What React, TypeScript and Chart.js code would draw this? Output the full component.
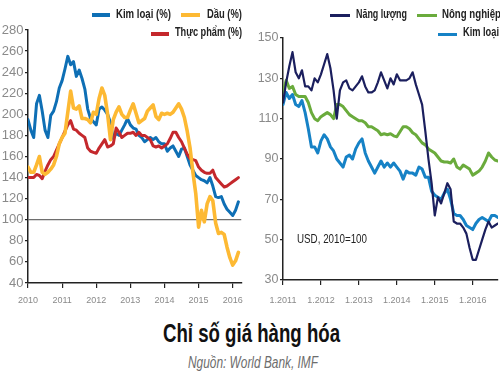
import React, { useEffect, useLayoutEffect, useRef } from "react";
import { Chart, registerables } from "chart.js";

Chart.register(...registerables);

// ---------- Left chart data (monthly, Jan 2010 .. Mar 2016) ----------
const leftYearTicks = [0, 12, 24, 36, 48, 60, 72];
const leftYearLabels = ["2010", "2011", "2012", "2013", "2014", "2015", "2016"];
const leftYTicks = [40, 60, 80, 100, 120, 140, 160, 180, 200, 220, 240, 260, 280];

const leftMetals = [
  195, 185, 178, 210, 218, 203, 185, 178, 199, 203, 212, 225,
  232, 243, 255, 247, 250, 236, 242, 234, 224, 205, 196, 193,
  190, 205, 207, 204, 200, 192, 177, 182, 180, 185, 190, 196,
  190, 187, 186, 180, 178, 174, 176, 178, 176, 178, 174, 172,
  172, 165, 168, 170, 165, 160, 167, 168, 160, 152, 147, 142,
  140, 138, 137, 135, 140, 132, 122, 121, 122, 115, 110, 107,
  104, 109, 117,
];
const leftOil = [
  150, 145, 145, 152, 160, 145, 143, 145, 148, 152, 160, 172,
  178, 182, 202, 222, 206, 205, 208, 196, 196, 195, 192, 202,
  200, 215, 225, 218, 200, 176, 195, 202, 207, 200, 197, 197,
  204, 210, 201, 192, 194, 196, 203, 206, 209, 198, 195, 201,
  200, 201, 200, 202, 206, 210, 205, 197, 184, 168, 145, 125,
  93, 109, 98, 115, 122, 118, 97, 87, 88, 86, 74, 64,
  57, 61, 69,
];
const leftFood = [
  140, 140, 140, 143, 142, 139, 146, 152, 157, 160, 166, 172,
  178, 184, 190, 194, 186, 185, 182, 180, 178, 168, 165, 164,
  163, 168, 172, 176, 169, 170, 172, 187, 183, 178, 180, 182,
  182, 183, 180, 183, 180, 180, 178, 176, 170, 169, 170, 168,
  170, 172, 177, 183, 183, 178, 174, 168, 162, 158, 157, 156,
  150, 147, 145, 144, 144, 147, 140, 137, 134, 131, 132, 134,
  136, 138, 140,
];

// ---------- Right chart data (monthly, Jan 2011 .. Sep 2016) ----------
const rightYearTicks = [0, 12, 24, 36, 48, 60];
const rightYearLabels = ["1.2011", "1.2012", "1.2013", "1.2014", "1.2015", "1.2016"];
const rightYTicks = [30, 50, 70, 90, 110, 130, 150];

const rightEnergy = [
  118, 128, 136, 143, 133, 130, 134, 126, 126, 124, 130, 128,
  132, 137, 142, 135, 124, 110, 124, 128, 129, 125, 124, 126,
  128, 131, 126, 123, 123, 124, 128, 133, 129, 125, 130, 127,
  132, 129, 129, 129, 130, 133, 127, 122, 117, 104, 90, 78,
  62, 71, 68, 73, 78, 75, 59, 58, 58, 56, 53, 46,
  40, 40, 45, 50, 55, 59, 56, 57, 58,
];
const rightAgri = [
  123, 129, 125, 126, 122, 121, 121, 121, 118, 113, 110, 109,
  111, 112, 113, 112, 110, 117, 117, 116, 114, 112, 111, 110,
  109, 109, 108, 106, 106, 105, 104, 102, 102.5, 102, 102.5, 101.5,
  101, 103.5, 106, 106, 105, 103, 102, 100, 98, 97, 95, 94,
  93, 91, 89, 88.5, 88.5, 88, 90, 86, 85, 87, 86, 85,
  82, 83, 84, 86, 89, 93, 91, 89.5, 89,
];
const rightMetals = [
  117, 123, 120, 122, 117, 116, 119, 113, 105, 96, 96, 93,
  99, 102, 100, 96, 94, 90, 88, 86, 91, 92, 90, 95,
  98, 100, 93, 89, 86, 83, 86, 89, 86, 88, 86, 88,
  86, 84, 80, 84, 83, 83, 82, 86, 85, 81, 81, 74,
  72, 71, 70, 73, 75, 70, 63, 62, 62, 60, 57, 56,
  55, 58, 60, 61, 60, 59, 62, 62, 61,
];

const SANS = '"Liberation Sans", Arial, sans-serif';
const TICK_GRAY = "#8a8a8a";
const AXIS = "#222";

const toPoints = (arr: number[]) => arr.map((v, i) => ({ x: i, y: v }));

function makeOptions(cfg: {
  padTop: number;
  padRight: number;
  yWidth: number;
  xHeight: number;
  xMax: number;
  yMin: number;
  yMax: number;
  yTicks: number[];
  xTicks: number[];
  xLabels: string[];
  xPad: number;
  yFont: number;
  refLine?: number;
}) {
  return {
    animation: false,
    responsive: false,
    maintainAspectRatio: false,
    layout: { padding: { top: cfg.padTop, right: cfg.padRight, left: 0, bottom: 0 } },
    plugins: { legend: { display: false }, tooltip: { enabled: false } },
    elements: { point: { radius: 0 }, line: { tension: 0, borderJoinStyle: "round", borderCapStyle: "round" } },
    scales: {
      x: {
        type: "linear",
        min: 0,
        max: cfg.xMax,
        afterBuildTicks: (axis: any) => {
          axis.ticks = cfg.xTicks.map((v) => ({ value: v }));
        },
        afterFit: (s: any) => {
          s.height = cfg.xHeight;
        },
        grid: { drawOnChartArea: false, drawTicks: true, tickLength: 5, color: AXIS, lineWidth: 1.2 },
        border: { color: AXIS, width: 1.5 },
        ticks: {
          padding: cfg.xPad,
          color: TICK_GRAY,
          font: { family: SANS, size: 9 },
          maxRotation: 0,
          autoSkip: false,
          callback: (v: any) => {
            const i = cfg.xTicks.indexOf(Number(v));
            return i >= 0 ? cfg.xLabels[i] : "";
          },
        },
      },
      y: {
        min: cfg.yMin,
        max: cfg.yMax,
        afterBuildTicks: (axis: any) => {
          axis.ticks = cfg.yTicks.map((v) => ({ value: v }));
        },
        afterFit: (s: any) => {
          s.width = cfg.yWidth;
        },
        grid: {
          drawOnChartArea: cfg.refLine !== undefined,
          drawTicks: true,
          tickLength: 3,
          color: (ctx: any) =>
            cfg.refLine !== undefined && ctx.tick && ctx.tick.value === cfg.refLine ? "#6e6e6e" : "rgba(0,0,0,0)",
          tickColor: AXIS,
          lineWidth: 1.2,
        },
        border: { color: AXIS, width: 1.5 },
        ticks: {
          padding: 1.5,
          color: TICK_GRAY,
          font: { family: SANS, size: cfg.yFont },
          autoSkip: false,
        },
      },
    },
  } as any;
}

function LeftChart() {
  const ref = useRef<HTMLCanvasElement | null>(null);
  useEffect(() => {
    if (!ref.current) return;
    const chart = new Chart(ref.current, {
      type: "line",
      data: {
        datasets: [
          { label: "Dầu (%)", data: toPoints(leftOil), borderColor: "#fdb933", borderWidth: 3.6, order: 0 },
          { label: "Thực phẩm (%)", data: toPoints(leftFood), borderColor: "#c4282c", borderWidth: 3, order: 1 },
          { label: "Kim loại (%)", data: toPoints(leftMetals), borderColor: "#0e6fb5", borderWidth: 3, order: 2 },
        ],
      },
      options: makeOptions({
        padTop: 30,
        padRight: 7,
        yWidth: 28,
        xHeight: 27,
        xMax: 75,
        yMin: 40,
        yMax: 280,
        yTicks: leftYTicks,
        xTicks: leftYearTicks,
        xLabels: leftYearLabels,
        xPad: 7,
        yFont: 13,
        refLine: 100,
      }),
    });
    return () => chart.destroy();
  }, []);
  return (
    <canvas
      ref={ref}
      width={250}
      height={310}
      style={{ position: "absolute", left: 0, top: 0, width: 250, height: 310 }}
    />
  );
}

function RightChart() {
  const ref = useRef<HTMLCanvasElement | null>(null);
  useEffect(() => {
    if (!ref.current) return;
    const chart = new Chart(ref.current, {
      type: "line",
      data: {
        datasets: [
          { label: "Năng lượng", data: toPoints(rightEnergy), borderColor: "#1b1f5e", borderWidth: 2.2, order: 0 },
          { label: "Nông nghiệp", data: toPoints(rightAgri), borderColor: "#6aab3c", borderWidth: 3, order: 1 },
          { label: "Kim loại", data: toPoints(rightMetals), borderColor: "#1682c6", borderWidth: 3, order: 2 },
        ],
      },
      options: makeOptions({
        padTop: 38,
        padRight: 2,
        yWidth: 33,
        xHeight: 30,
        xMax: 68,
        yMin: 30,
        yMax: 150,
        yTicks: rightYTicks,
        xTicks: rightYearTicks,
        xLabels: rightYearLabels,
        xPad: 10,
        yFont: 12.5,
      }),
    });
    return () => chart.destroy();
  }, []);
  return (
    <canvas
      ref={ref}
      width={250}
      height={310}
      style={{ position: "absolute", left: 250, top: 0, width: 250, height: 310 }}
    />
  );
}

// Text squeezed horizontally to a target width (condensed look)
function FitText(props: {
  text: string;
  left: number;
  top: number;
  width: number;
  font: string;
  lineHeight: number;
  color: string;
}) {
  const ref = useRef<HTMLDivElement | null>(null);
  useLayoutEffect(() => {
    const el = ref.current;
    if (!el) return;
    const fit = () => {
      el.style.transform = "none";
      const w = el.getBoundingClientRect().width;
      if (w > 0) el.style.transform = `scaleX(${props.width / w})`;
    };
    fit();
    if ((document as any).fonts && (document as any).fonts.ready) {
      (document as any).fonts.ready.then(fit);
    }
  }, []);
  return (
    <div
      ref={ref}
      style={{
        position: "absolute",
        left: props.left,
        top: props.top,
        font: props.font,
        lineHeight: `${props.lineHeight}px`,
        color: props.color,
        whiteSpace: "nowrap",
        transformOrigin: "0 0",
      }}
    >
      {props.text}
    </div>
  );
}

function Swatch(props: { color: string; left: number; top: number; w: number; h: number }) {
  return (
    <div
      style={{
        position: "absolute",
        left: props.left,
        top: props.top,
        width: props.w,
        height: props.h,
        background: props.color,
      }}
    />
  );
}

const LEGEND_FONT = `bold 12px ${SANS}`;

export default function App() {
  return (
    <div
      style={{
        position: "absolute",
        left: 0,
        top: 0,
        width: 500,
        height: 377,
        overflow: "hidden",
        background: "#fff",
      }}
    >
      <LeftChart />
      <RightChart />

      <Swatch color="#0e6fb5" left={92} top={13.3} w={18} h={3.5} />
      <FitText text="Kim loại (%)" left={116} top={7.1} width={55} font={LEGEND_FONT} lineHeight={14} color="#222" />
      <Swatch color="#fdb933" left={181} top={12.7} w={19} h={4.6} />
      <FitText text="Dầu (%)" left={207} top={7.1} width={35} font={LEGEND_FONT} lineHeight={14} color="#222" />
      <Swatch color="#c4282c" left={151} top={32.3} w={18} h={3.5} />
      <FitText text="Thực phẩm (%)" left={175} top={24.8} width={67} font={LEGEND_FONT} lineHeight={14} color="#222" />

      <Swatch color="#1b1f5e" left={330} top={14} w={20} h={2.8} />
      <FitText text="Năng lượng" left={356} top={7.1} width={51} font={LEGEND_FONT} lineHeight={14} color="#222" />
      <Swatch color="#6aab3c" left={417} top={13.5} w={20} h={3.5} />
      <FitText text="Nông nghiệp" left={442} top={7.1} width={59} font={LEGEND_FONT} lineHeight={14} color="#222" />
      <Swatch color="#1682c6" left={438} top={32.5} w={19} h={3.5} />
      <FitText text="Kim loại" left={463} top={24.8} width={36} font={LEGEND_FONT} lineHeight={14} color="#222" />

      <FitText text="USD, 2010=100" left={297} top={230.5} width={70} font={`13px ${SANS}`} lineHeight={16} color="#222" />

      <FitText text="Chỉ số giá hàng hóa" left={163} top={317.7} width={177} font={`bold 26px ${SANS}`} lineHeight={30} color="#111" />
      <FitText text="Nguồn: World Bank, IMF" left={188} top={353.8} width={130} font={`italic 16px ${SANS}`} lineHeight={18} color="#6d6d6d" />
    </div>
  );
}
